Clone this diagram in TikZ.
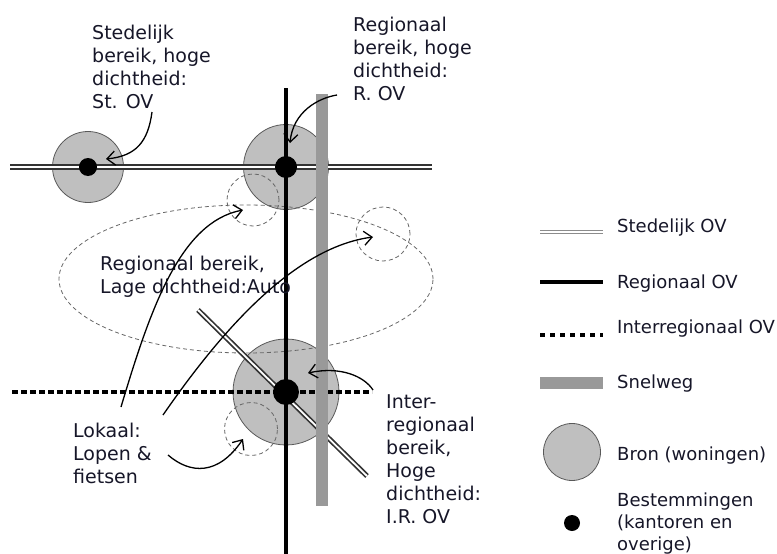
\documentclass[tikz,border=0pt]{standalone}
\usepackage{fontspec}
\setmainfont{DejaVu Sans}
\usetikzlibrary{arrows.meta,shapes.geometric}
\definecolor{ink}{RGB}{22,22,40}
\begin{document}
\begin{tikzpicture}[x=1pt,y=-1pt,
  lbl/.style={font=\fontsize{19}{23}\selectfont, align=left, anchor=base west, inner sep=0pt, text=ink},
  leg/.style={font=\fontsize{18}{22}\selectfont, align=left, anchor=base west, inner sep=0pt, text=ink},
  bron/.style={circle, draw=black!65, line width=0.8pt, fill=black!25, inner sep=0pt, minimum size=#1},
  dest/.style={circle, fill=black, inner sep=0pt, minimum size=#1},
  reach/.style={draw=black!60, dash pattern=on 4pt off 3pt, line width=0.8pt, inner sep=0pt},
  stedov/.style={draw=black!80, double=white, line width=1.7pt, double distance=1.8pt},
  regov/.style={draw=black, line width=4.5pt},
  irov/.style={draw=black, line width=4.5pt, dash pattern=on 6pt off 3pt},
  snelweg/.style={draw=black!40, line width=12pt},
  pointer/.style={draw=black, line width=1.3pt, -{Straight Barb[length=8pt,width=14pt]}},
]
\useasboundingbox (0,0) rectangle (777,554);

% sources (housing areas)
\node[bron=71pt] (cSt) at (88,167) {};
\node[bron=85pt] (cReg) at (286,167) {};
\node[bron=106pt] (cIR) at (286,392) {};

% reach areas
\node[reach, ellipse, minimum width=374pt, minimum height=148pt] (eAuto) at (246,279) {};
\node[reach, circle, minimum size=52pt] (zA) at (253,200) {};
\node[reach, circle, minimum size=54pt] (zB) at (383,234) {};
\node[reach, circle, minimum size=53pt] (zC) at (251,429) {};

% networks
\coordinate (sL) at (10,167);   \coordinate (sR) at (432,167);
\coordinate (dT) at (198,310);  \coordinate (dB) at (367,476);
\coordinate (rT) at (286,88);   \coordinate (rB) at (286,556);
\coordinate (iL) at (12,392);   \coordinate (iR) at (372,392);
\coordinate (wT) at (322,94);   \coordinate (wB) at (322,506);
\draw[stedov] (sL) -- (sR);
\draw[stedov] (dT) -- (dB);
\draw[irov] (iL) -- (iR);
\draw[regov] (rT) -- (rB);
\draw[snelweg] (wT) -- (wB);

% destinations
\node[dest=18pt] (dSt) at (cSt) {};
\node[dest=22pt] (dReg) at (cReg) {};
\node[dest=26pt] (dIR) at (cIR) {};

% labels (anchored at the baseline of their last line)
\node[lbl] (tSt) at (92,108) {Stedelijk\\bereik, hoge\\dichtheid:\\St. OV};
\node[lbl] (tReg) at (353,100) {Regionaal\\bereik, hoge\\dichtheid:\\R. OV};
\node[lbl] (tAuto) at (100,293) {Regionaal bereik,\\Lage dichtheid:Auto};
\node[lbl] (tLok) at (73,483) {Lokaal:\\Lopen \&\\fietsen};
\node[lbl] (tIR) at (386,523) {Inter-\\regionaal\\bereik,\\Hoge\\dichtheid:\\I.R. OV};

% pointers
\coordinate (p1s) at (152,112); \coordinate (p1e) at (106,159);
\coordinate (p2s) at (337,95);  \coordinate (p2e) at (290,143);
\coordinate (p3s) at (121,407); \coordinate (p3e) at (243,210);
\coordinate (p4s) at (163,415); \coordinate (p4e) at (373,237);
\coordinate (p5s) at (168,455); \coordinate (p5e) at (243,439);
\coordinate (p6s) at (373,390); \coordinate (p6e) at (308,373);
\draw[pointer] (p1s) .. controls (148,142) and (136,156) .. (p1e);
\draw[pointer] (p2s) .. controls (318,98) and (293,112) .. (p2e);
\draw[pointer] (p3s) .. controls (150,310) and (180,222) .. (p3e);
\draw[pointer] (p4s) .. controls (215,340) and (290,248) .. (p4e);
\draw[pointer] (p5s) .. controls (190,474) and (218,476) .. (p5e);
\draw[pointer] (p6s) .. controls (364,376) and (340,366) .. (p6e);

% legend
\coordinate (l1a) at (540,232); \coordinate (l1b) at (603,232);
\coordinate (l2a) at (540,282); \coordinate (l2b) at (603,282);
\coordinate (l3a) at (540,335); \coordinate (l3b) at (603,335);
\coordinate (l4a) at (540,383); \coordinate (l4b) at (603,383);
\draw[stedov, draw=black!45, line width=1.2pt] (l1a) -- (l1b);
\draw[regov] (l2a) -- (l2b);
\draw[irov, dash pattern=on 5pt off 5pt] (l3a) -- (l3b);
\draw[snelweg] (l4a) -- (l4b);
\node[bron=57pt] (lBron) at (572,452) {};
\node[dest=16pt] (lDest) at (572,523) {};
\node[leg] (k1) at (617,232) {Stedelijk OV};
\node[leg] (k2) at (617,288) {Regionaal OV};
\node[leg] (k3) at (617,333) {Interregionaal OV};
\node[leg] (k4) at (617,388) {Snelweg};
\node[leg] (k5) at (617,460) {Bron (woningen)};
\node[leg] (k6) at (617,550) {Bestemmingen\\(kantoren en\\overige)};
\end{tikzpicture}
\end{document}
